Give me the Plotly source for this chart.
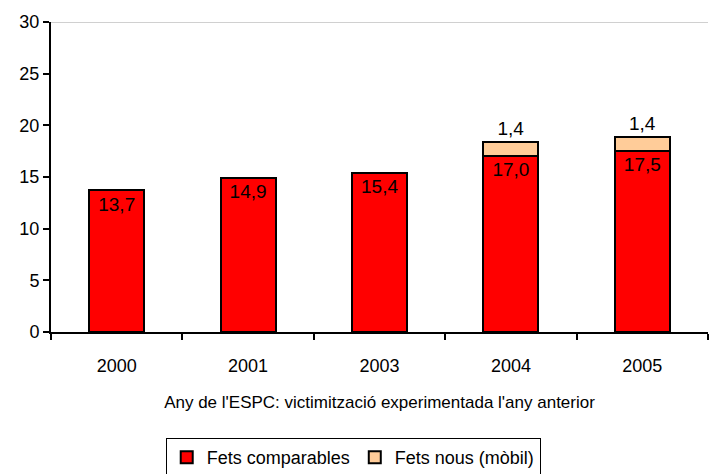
import plotly.graph_objects as go

years = ["2000", "2001", "2003", "2004", "2005"]
comparables = [13.7, 14.9, 15.4, 17.0, 17.5]
nous = [None, None, None, 1.4, 1.4]

def fmt(v):
    return None if v is None else f"{v:.1f}".replace(".", ",")

font = dict(family="Liberation Sans, Arial, sans-serif", size=18, color="black")

fig = go.Figure()
fig.add_trace(go.Bar(
    x=years, y=comparables, name="Fets comparables",
    marker=dict(color="#FF0000", line=dict(color="black", width=2)),
    text=[fmt(v) for v in comparables], textposition="inside",
    insidetextanchor="end", textfont=dict(font, size=20), textangle=0,
))
fig.add_trace(go.Bar(
    x=years, y=nous, name="Fets nous (mòbil)",
    marker=dict(color="#FFCC99", line=dict(color="black", width=2)),
    text=[fmt(v) for v in nous], textposition="outside",
    textfont=dict(font, size=19), textangle=0, cliponaxis=False,
))
fig.add_shape(type="line", xref="paper", yref="y", x0=0, x1=1, y0=30, y1=30,
              line=dict(color="#C0C0C0", width=1.5))

fig.update_layout(
    barmode="stack", bargap=0.58,
    width=710, height=474,
    margin=dict(l=51, r=2, t=22, b=142, autoexpand=False),
    paper_bgcolor="white", plot_bgcolor="white",
    font=font,
    uniformtext=dict(minsize=16, mode="show"),
    xaxis=dict(showline=True, linecolor="black", linewidth=2, automargin=False,
               ticks="outside", ticklen=6, tickcolor="black", tickwidth=2,
               tickson="boundaries", ticklabelstandoff=16,
               title=dict(text="Any de l'ESPC: victimització experimentada l'any anterior",
                          font=dict(size=17), standoff=22),
               tickfont=dict(size=18)),
    yaxis=dict(range=[0, 30], dtick=5, showline=True, linecolor="black", linewidth=2,
               automargin=False,
               ticks="outside", ticklen=6, tickcolor="black", tickwidth=2,
               showgrid=False, zeroline=False, tickfont=dict(size=18)),
    legend=dict(orientation="h", x=0.46, xanchor="center", y=-0.405, yanchor="middle",
                bordercolor="black", borderwidth=1, font=dict(size=18),
                itemwidth=30, traceorder="normal"),
    showlegend=True,
)
fig.write_html("out.html", config={"displayModeBar": False},
               post_script="document.body.style.margin='0';document.body.style.overflow='hidden';")
